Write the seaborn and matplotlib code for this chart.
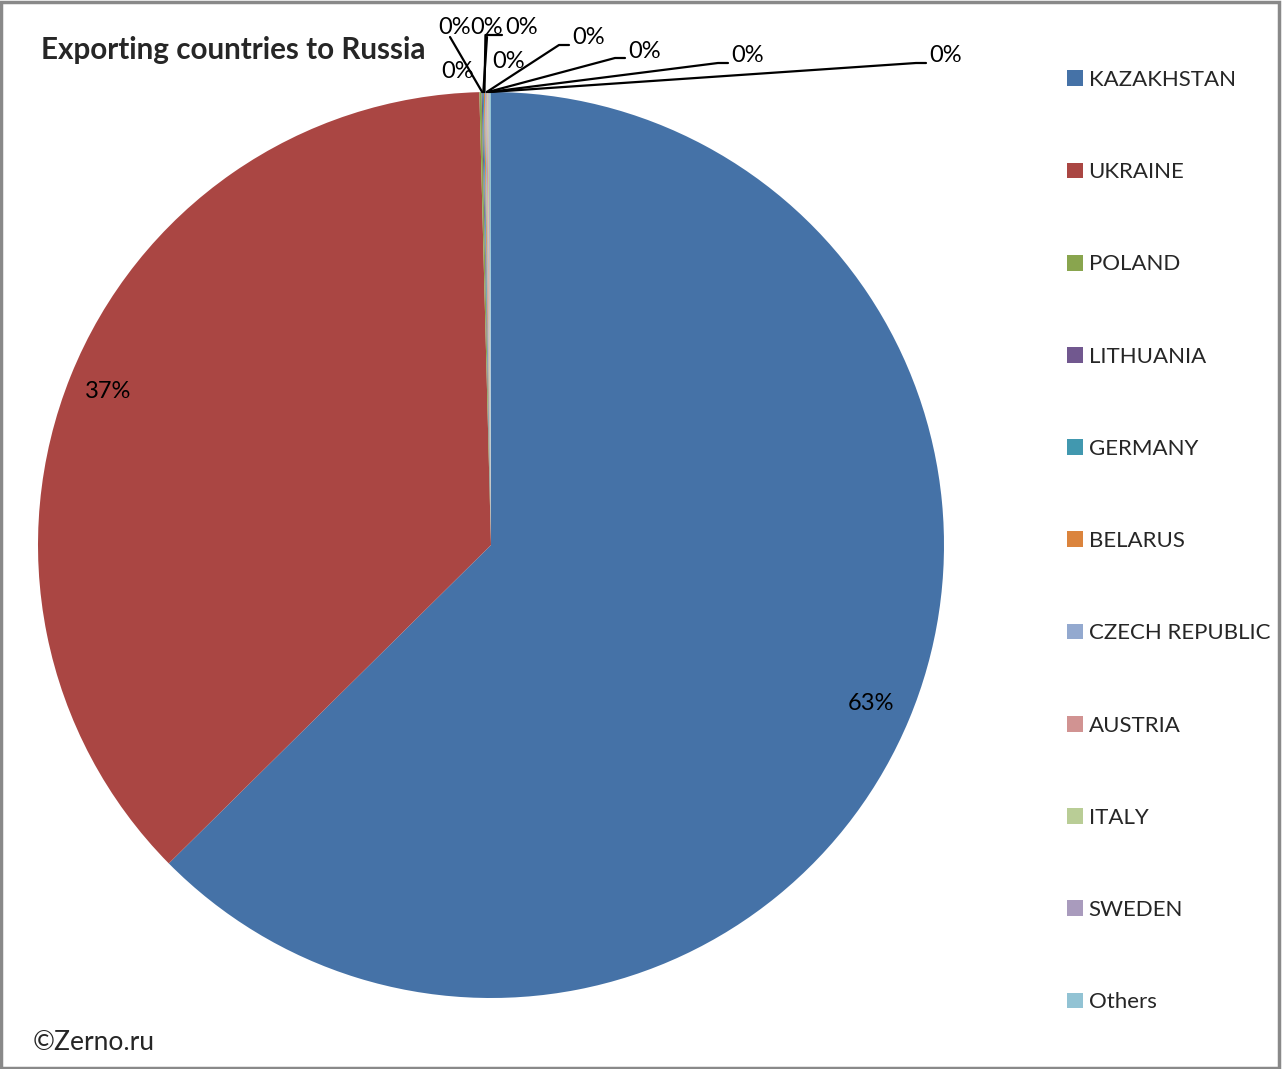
import matplotlib
matplotlib.use("Agg")
import matplotlib.pyplot as plt
from matplotlib.patches import Rectangle
import seaborn as sns
import numpy as np

countries = ["KAZAKHSTAN", "UKRAINE", "POLAND", "LITHUANIA", "GERMANY", "BELARUS",
             "CZECH REPUBLIC", "AUSTRIA", "ITALY", "SWEDEN", "Others"]
shares = [62.6, 37.0, 0.08, 0.04, 0.04, 0.04, 0.04, 0.04, 0.04, 0.04, 0.05]
colors = ["#4572A7", "#AA4643", "#89A54E", "#71588F", "#4198AF", "#DB843D",
          "#93A9CF", "#D19392", "#B9CD96", "#A99BBD", "#92C3D4"]
title = "Exporting countries to Russia"
credit = "\u00a9Zerno.ru"

sns.set_style("white")
plt.rcParams["font.family"] = ["Lato", "DejaVu Sans"]

W, H = 1282, 1069
fig = plt.figure(figsize=(W / 100, H / 100), dpi=100)
cx, cy, R = 491, 545, 453
ax = fig.add_axes([(cx - R) / W, (H - cy - R) / H, 2 * R / W, 2 * R / H])

wedges, texts, autotexts = ax.pie(
    shares, colors=colors, startangle=90, counterclock=False, radius=1,
    autopct=lambda p: f"{p:.0f}%", pctdistance=0.91,
    wedgeprops=dict(linewidth=0), textprops=dict(fontsize=17, color="black"))
ax.set_xlim(-1, 1)
ax.set_ylim(-1, 1)
ax.set_aspect("equal")
ax.axis("off")

def px(x, y):
    return ((x - cx) / R, (cy - y) / R)

# label placement for the tiny slices (pixel layout), style of leader line
tiny_layout = {
    2: ((458, 71), None),
    3: ((455, 27), "bottom"),
    4: ((487, 27), "bottom"),
    5: ((522, 27), "left_hook"),
    6: ((509, 61), None),
    7: ((589, 38), "left"),
    8: ((645, 51), "left"),
    9: ((748, 56), "left"),
    10: ((946, 56), "left"),
}
for i, (pos, style) in tiny_layout.items():
    w = wedges[i]
    mid = np.deg2rad((w.theta1 + w.theta2) / 2)
    wx, wy = np.cos(mid), np.sin(mid)
    tx, ty = px(*pos)
    autotexts[i].set_position((tx, ty))
    autotexts[i].set_ha("center")
    autotexts[i].set_va("center")
    hw = 18 / R
    if style == "left":
        ex, ey = tx - hw - 2 / R, ty - 7 / R
        bx = ex - 10 / R
        ax.plot([wx, bx, ex], [wy, ey, ey], color="black", lw=1.6, clip_on=False)
    elif style == "bottom":
        ax.plot([wx, tx - 5 / R if pos[0] < 480 else tx], [wy, ty - 10 / R],
                color="black", lw=1.6, clip_on=False)
    elif style == "left_hook":
        ex, ey = tx - hw - 2 / R, ty - 8 / R
        bx = wx + 1 / R
        ax.plot([wx, bx, ex], [wy, ey, ey], color="black", lw=1.6, clip_on=False)

fig.text(41 / W, 1 - 50 / H, title, fontsize=21.3, fontweight="bold", ha="left", va="center")
fig.text(33 / W, 1 - 1043 / H, credit, fontsize=19, ha="left", va="center")

fig.legend(wedges, countries, loc="upper left", bbox_to_anchor=(1067 / W, 1 - 70 / H),
           frameon=False, fontsize=16, labelspacing=3.25, handlelength=0.72,
           handleheight=0.72, handletextpad=0.25, borderpad=0, borderaxespad=0)

fig.patches.append(Rectangle((0.001, 0.001), 0.997, 0.997, transform=fig.transFigure,
                             fill=False, edgecolor="#898989", linewidth=2.5))
fig.savefig("out.png", dpi=100)
